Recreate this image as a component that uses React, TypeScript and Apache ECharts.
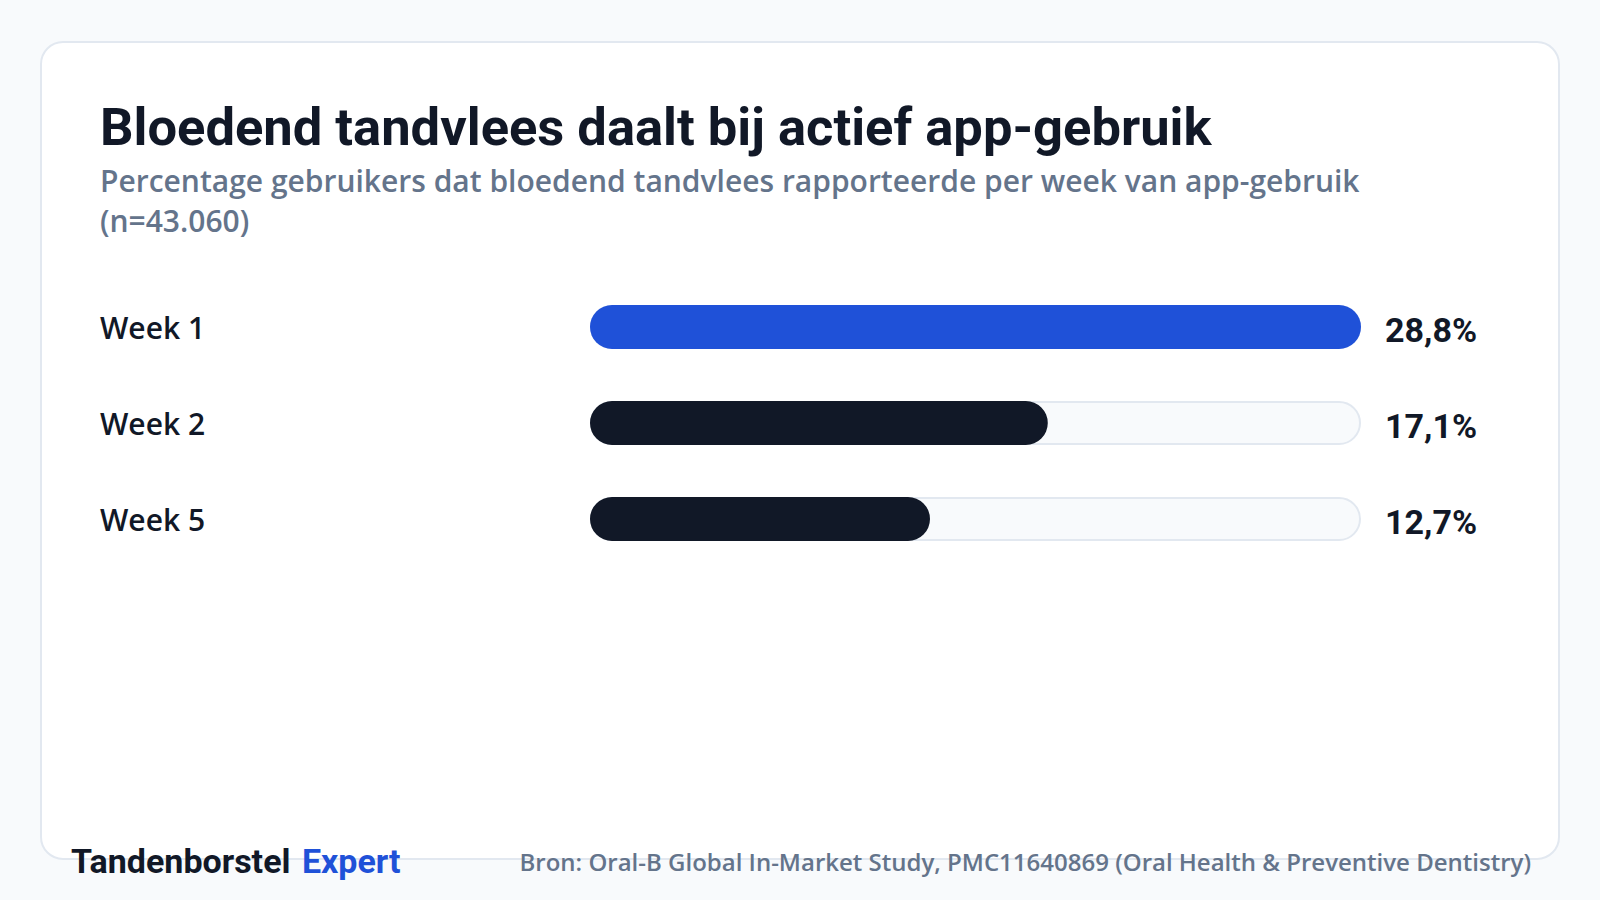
import React, { useEffect, useRef } from "react";
import * as echarts from "echarts";

const TITLE = "Bloedend tandvlees daalt bij actief app-gebruik";
const SUBTITLE_LINES = [
  "Percentage gebruikers dat bloedend tandvlees rapporteerde per week van app-gebruik",
  "(n=43.060)",
];
const categories = ["Week 1", "Week 2", "Week 5"];
const values = [28.8, 17.1, 12.7];
const barColors = ["#1f51d8", "#111827", "#111827"];
const SOURCE = "Bron: Oral-B Global In-Market Study, PMC11640869 (Oral Health & Preventive Dentistry)";
const BRAND_A = "Tandenborstel";
const BRAND_B = "Expert";

const fmt = (v: number) => v.toFixed(1).replace(".", ",") + "%";

export default function App() {
  const ref = useRef<HTMLDivElement>(null);
  useEffect(() => {
    if (!ref.current) return;
    const chart = echarts.init(ref.current, null, { renderer: "svg" });
    const maxV = Math.max(...values);
    chart.setOption({
      animation: false,
      backgroundColor: "#f8fafc",
      grid: { left: 590, right: 239, top: 279, height: 288, containLabel: false },
      xAxis: { type: "value", min: 0, max: maxV, show: false },
      yAxis: {
        type: "category",
        data: categories,
        inverse: true,
        axisLine: { show: false },
        axisTick: { show: false },
        splitLine: { show: false },
        axisLabel: {
          align: "left",
          margin: 490,
          fontFamily: "'Open Sans'",
          fontSize: 30,
          fontWeight: 600,
          color: "#111827",
        },
      },
      graphic: [
        {
          type: "rect",
          z: -10,
          shape: { x: 41, y: 42, width: 1518, height: 817, r: 22 },
          style: { fill: "#ffffff", stroke: "#e2e8f0", lineWidth: 2 },
        },
        {
          type: "text",
          x: 100,
          y: 127,
          style: {
            text: TITLE,
            fontFamily: "Roboto",
            fontWeight: 700,
            fontSize: 52.5,
            fill: "#111827",
            verticalAlign: "middle",
          },
        },
        ...SUBTITLE_LINES.map((t, i) => ({
          type: "text",
          x: 100,
          y: 180 + i * 40,
          style: {
            text: t,
            fontFamily: "'Open Sans'",
            fontWeight: 600,
            fontSize: 30,
            fill: "#64748b",
            verticalAlign: "middle",
          },
        })),
        {
          type: "text",
          x: 71,
          y: 861,
          style: {
            rich: {
              a: { fontFamily: "Roboto", fontWeight: 700, fontSize: 34, fill: "#111827", color: "#111827" },
              b: { fontFamily: "Roboto", fontWeight: 700, fontSize: 34, fill: "#1f51d8", color: "#1f51d8", padding: [0, 0, 0, 3] },
            },
            text: `{a|${BRAND_A} }{b|${BRAND_B}}`,
            verticalAlign: "middle",
          },
        },
        {
          type: "text",
          x: 1531,
          y: 861,
          style: {
            text: SOURCE,
            fontFamily: "'Open Sans'",
            fontWeight: 600,
            fontSize: 24,
            fill: "#64748b",
            align: "right",
            verticalAlign: "middle",
          },
        },
      ],
      series: [
        {
          type: "bar",
          data: values.map(() => maxV),
          barWidth: 44,
          barGap: "-100%",
          silent: true,
          itemStyle: { color: "#f8fafc", borderColor: "#e2e8f0", borderWidth: 2, borderRadius: 22 },
          label: {
            show: true,
            position: "right",
            distance: 24,
            offset: [0, 3],
            formatter: (p: any) => fmt(values[p.dataIndex]),
            fontFamily: "Roboto",
            fontWeight: 700,
            fontSize: 34,
            color: "#111827",
          },
        },
        {
          type: "bar",
          data: values.map((v, i) => ({ value: v, itemStyle: { color: barColors[i] } })),
          barWidth: 44,
          barGap: "-100%",
          itemStyle: { borderRadius: 22 },
        },
      ],
    });
    return () => chart.dispose();
  }, []);
  return (
    <div
      ref={ref}
      style={{ position: "fixed", left: 0, top: 0, width: 1600, height: 900 }}
    />
  );
}
